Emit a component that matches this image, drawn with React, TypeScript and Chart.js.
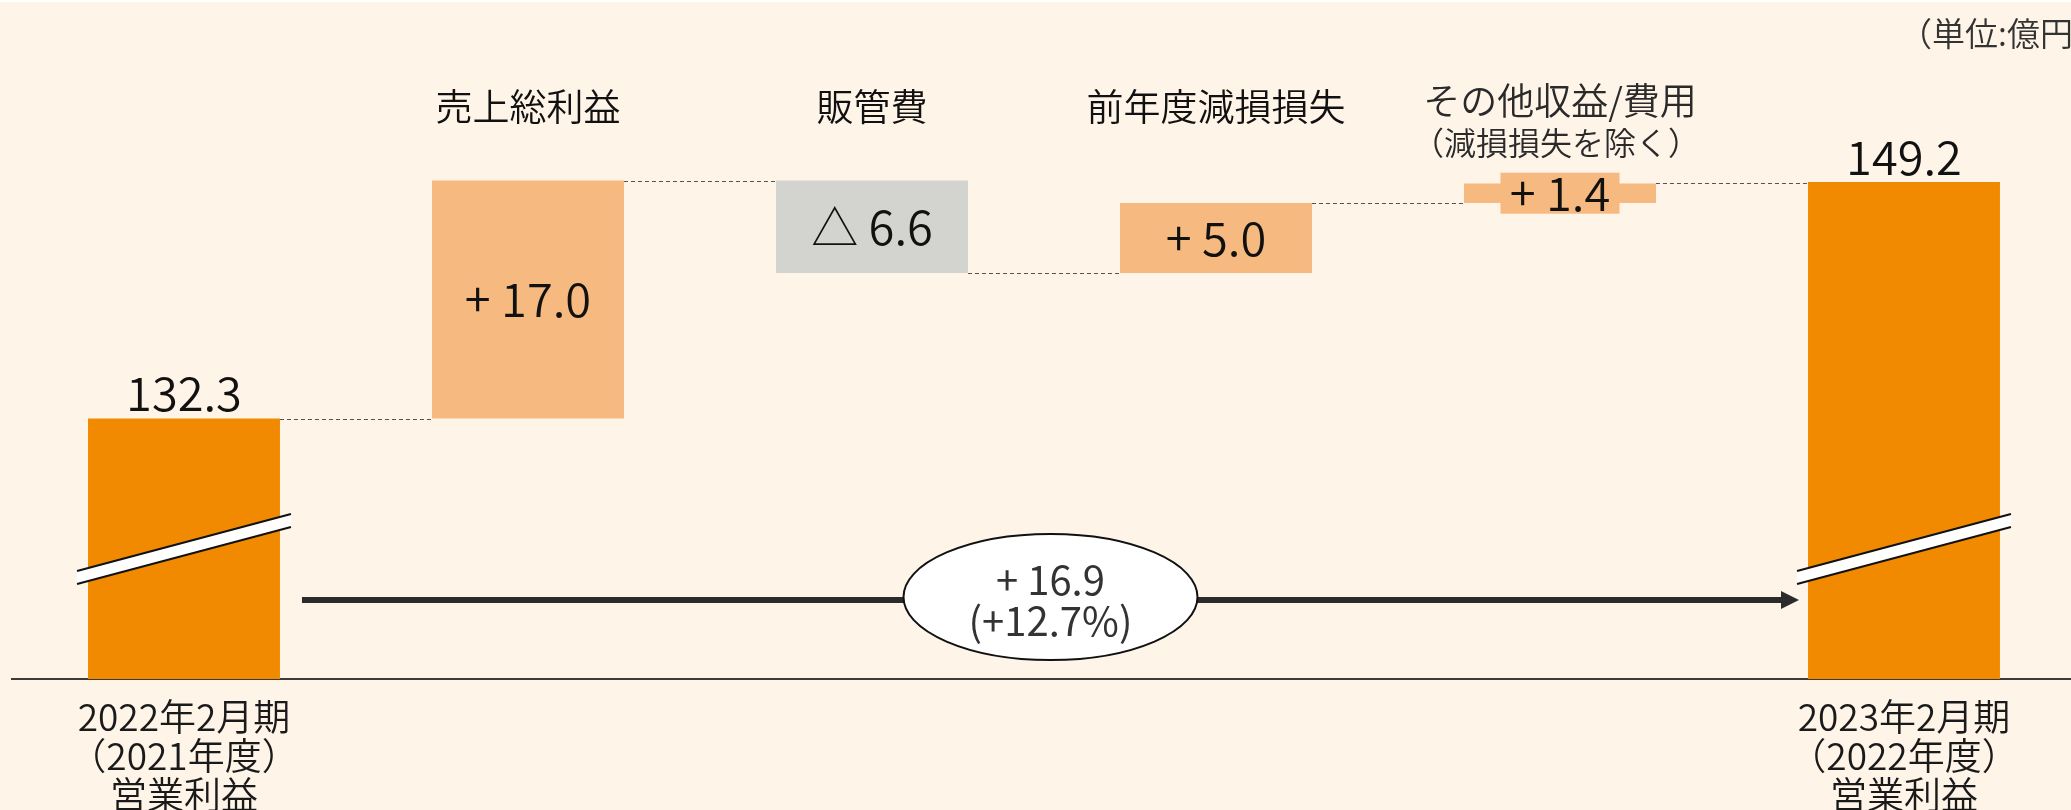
import React, { useEffect, useRef } from 'react';
import { Chart, registerables } from 'chart.js';

Chart.register(...registerables);

const FONT = '"Noto Sans CJK JP", "Noto Sans CJK SC", sans-serif';
const WEIGHT = 350;

// ---- data ----
const categories = ['2022年2月期営業利益', '売上総利益', '販管費', '前年度減損損失', 'その他収益/費用', '2023年2月期営業利益'];
const bottomLabels: string[][] = [
  ['2022年2月期', '（2021年度）', '営業利益'],
  [],
  [],
  [],
  [],
  ['2023年2月期', '（2022年度）', '営業利益'],
];
const topLabels: string[][] = [[], ['売上総利益'], ['販管費'], ['前年度減損損失'], ['その他収益/費用', '（減損損失を除く）'], []];
const startProfit = 132.3;
const changes = [17.0, -6.6, 5.0, 1.4];
const endProfit = 149.2;
const valueLabels = ['132.3', '+ 17.0', '△ 6.6', '+ 5.0', '+ 1.4', '149.2'];
const totalChangeLabel = '+ 16.9';
const totalChangePctLabel = '(+12.7%)';
const unitLabel = '（単位:億円）';
const axisMin = 113.7;
const axisMax = 162.2;

// ---- styles ----
const barColors = ['#F18A00', '#F6B97F', '#D3D3CF', '#F6B97F', '#F6B97F', '#F18A00'];

export default function App() {
  const ref = useRef<HTMLCanvasElement>(null);

  useEffect(() => {
    document.body.style.margin = '0';
    const canvas = ref.current!;

    const ranges: [number, number][] = [];
    ranges.push([axisMin, startProfit]);
    let cum = startProfit;
    for (const c of changes) {
      ranges.push([cum, cum + c]);
      cum += c;
    }
    ranges.push([axisMin, endProfit]);

    const decor = {
      id: 'waterfallDecor',
      afterDatasetsDraw(chart: any) {
        const ctx: CanvasRenderingContext2D = chart.ctx;
        const meta = chart.getDatasetMeta(0);
        const els = meta.data as any[];
        const yScale = chart.scales.y;
        const area = chart.chartArea;
        ctx.save();

        // dashed connectors
        ctx.strokeStyle = '#555';
        ctx.lineWidth = 1;
        ctx.setLineDash([4, 3]);
        for (let i = 0; i < els.length - 1; i++) {
          const a = els[i];
          const b = els[i + 1];
          const y = Math.round(yScale.getPixelForValue(ranges[i][1])) + 0.5;
          ctx.beginPath();
          ctx.moveTo(a.x + a.width / 2, y);
          ctx.lineTo(b.x - b.width / 2, y);
          ctx.stroke();
        }
        ctx.setLineDash([]);

        // axis break bands on total bars
        [0, els.length - 1].forEach((i) => {
          const el = els[i];
          const L = el.x - el.width / 2 - 11;
          const R = el.x + el.width / 2 + 11;
          const yl = area.bottom - 108;
          const yr = area.bottom - 165;
          const t = 13;
          ctx.fillStyle = '#ffffff';
          ctx.beginPath();
          ctx.moveTo(L, yl);
          ctx.lineTo(R, yr);
          ctx.lineTo(R, yr + t);
          ctx.lineTo(L, yl + t);
          ctx.closePath();
          ctx.fill();
          ctx.strokeStyle = '#111';
          ctx.lineWidth = 2;
          ctx.beginPath();
          ctx.moveTo(L, yl);
          ctx.lineTo(R, yr);
          ctx.moveTo(L, yl + t);
          ctx.lineTo(R, yr + t);
          ctx.stroke();
        });

        // value labels
        ctx.textAlign = 'center';
        ctx.textBaseline = 'middle';
        els.forEach((el, i) => {
          let y: number;
          if (i === 0 || i === els.length - 1) {
            y = Math.min(el.y, el.base) - 25;
          } else {
            y = (el.y + el.base) / 2;
          }
          if (i === 4) {
            ctx.fillStyle = barColors[i];
            ctx.fillRect(el.x - 59.5, y - 20.5, 119, 41);
          }
          ctx.fillStyle = '#111';
          ctx.font = `${WEIGHT} 47px ${FONT}`;
          ctx.fillText(valueLabels[i], el.x, y);
        });

        // top category labels
        els.forEach((el, i) => {
          const lines = topLabels[i];
          if (!lines.length) return;
          if (lines.length === 1) {
            ctx.fillStyle = '#111';
            ctx.font = `${WEIGHT} 37px ${FONT}`;
            ctx.fillText(lines[0], el.x, area.top + 107);
          } else {
            ctx.fillStyle = '#2a2a2a';
            ctx.font = `${WEIGHT} 37px ${FONT}`;
            ctx.fillText(lines[0], el.x, area.top + 101);
            ctx.font = `${WEIGHT} 32px ${FONT}`;
            ctx.fillText(lines[1], el.x - 4, area.top + 143);
          }
        });

        // unit label
        ctx.textAlign = 'left';
        ctx.fillStyle = '#333';
        ctx.font = `${WEIGHT} 33px ${FONT}`;
        ctx.fillText(unitLabel, 1899, area.top + 33);

        // arrow from first total to last total
        const first = els[0];
        const last = els[els.length - 1];
        const ax0 = first.x + first.width / 2 + 22;
        const ax1 = last.x - last.width / 2 - 9;
        const ay = area.bottom - 79;
        ctx.strokeStyle = '#2b2b2b';
        ctx.fillStyle = '#2b2b2b';
        ctx.lineWidth = 6;
        ctx.beginPath();
        ctx.moveTo(ax0, ay);
        ctx.lineTo(ax1 - 16, ay);
        ctx.stroke();
        ctx.beginPath();
        ctx.moveTo(ax1 - 18, ay - 9);
        ctx.lineTo(ax1, ay);
        ctx.lineTo(ax1 - 18, ay + 9);
        ctx.closePath();
        ctx.fill();

        // ellipse with total change
        const ex = (ax0 + ax1) / 2;
        const ey = ay - 3;
        ctx.beginPath();
        ctx.ellipse(ex, ey, 147, 63, 0, 0, Math.PI * 2);
        ctx.fillStyle = '#ffffff';
        ctx.fill();
        ctx.lineWidth = 2;
        ctx.strokeStyle = '#111';
        ctx.stroke();
        ctx.textAlign = 'center';
        ctx.fillStyle = '#333';
        ctx.font = `400 40px ${FONT}`;
        ctx.fillText(totalChangeLabel, ex, ey - 17);
        ctx.fillText(totalChangePctLabel, ex, ey + 24);

        ctx.restore();
      },
    };

    const chart = new Chart(canvas, {
      type: 'bar',
      data: {
        labels: categories,
        datasets: [
          {
            data: ranges as any,
            backgroundColor: barColors,
            borderWidth: 0,
            barPercentage: 0.558,
            categoryPercentage: 1,
          },
        ],
      },
      options: {
        responsive: false,
        animation: false,
        layout: { padding: { left: 12, right: 0, top: 0, bottom: 0 } },
        plugins: { legend: { display: false }, tooltip: { enabled: false } },
        scales: {
          x: {
            grid: { display: false, drawTicks: false },
            border: { display: true, color: '#3a3a3a', width: 2 },
            ticks: {
              autoSkip: false,
              maxRotation: 0,
              padding: 18,
              color: '#1a1a1a',
              font: { family: FONT, size: 37, weight: WEIGHT as any, lineHeight: 1.06 },
              callback: (_v: any, i: number) => (bottomLabels[i].length ? bottomLabels[i] : ''),
            },
            afterFit: (s: any) => {
              s.height = 131;
            },
          },
          y: { display: false, min: axisMin, max: axisMax },
        },
      },
      plugins: [decor],
    });
    return () => chart.destroy();
  }, []);

  return (
    <div
      style={{
        position: 'fixed',
        left: 0,
        top: 0,
        width: 2071,
        height: 810,
        overflow: 'hidden',
        background: '#FEF4E8',
      }}
    >
      <canvas ref={ref} width={2076} height={810} style={{ display: 'block', width: 2076, height: 810 }} />
      <div style={{ position: 'absolute', left: 0, top: 0, width: '100%', height: 2, background: '#ffffff' }} />
    </div>
  );
}
